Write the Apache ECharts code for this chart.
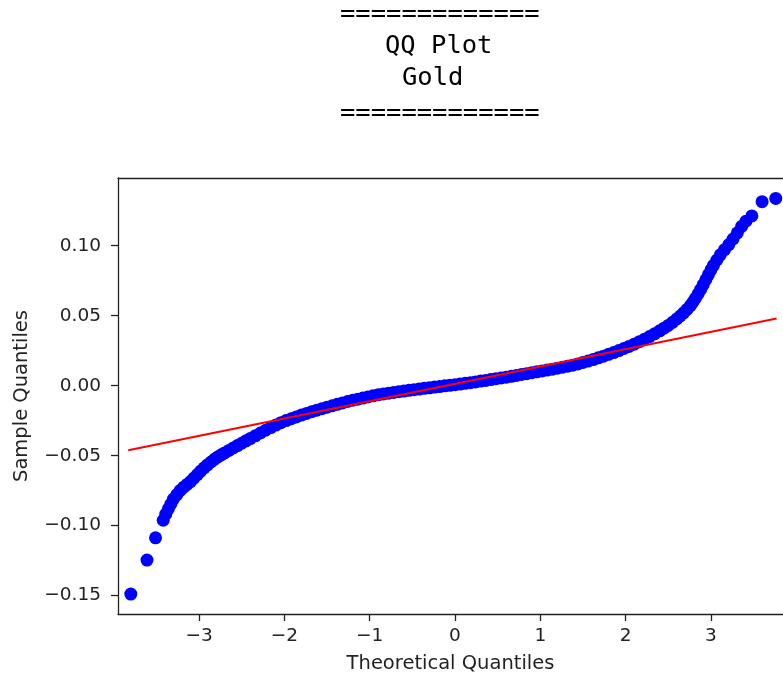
<!DOCTYPE html>
<html>
<head>
<meta charset="utf-8">
<script src="https://cdn.jsdelivr.net/npm/echarts@6/dist/echarts.min.js"></script>
<style>
  html, body { margin: 0; padding: 0; background: #fff; }
  #chart { width: 783px; height: 679px; }
</style>
</head>
<body>
<div id="chart"></div>
<script>
// theoretical quantiles (x) and sample quantiles (y)
const theoQuantiles = [
  -3.80, -3.61, -3.51, -3.42, -3.39, -3.36, -3.33, -3.30, -3.26, -3.22,
  -3.18, -3.14, -3.10, -3.06, -3.02, -2.98, -2.94, -2.90, -2.86, -2.82,
  -2.78, -2.74, -2.70, -2.65, -2.60, -2.55, -2.50, -2.45, -2.40, -2.34,
  -2.28, -2.22, -2.16, -2.10, -2.04, -1.98, -1.92, -1.86, -1.80, -1.74,
  -1.68, -1.62, -1.56, -1.50, -1.44, -1.38, -1.32, -1.26, -1.20, -1.14,
  -1.08, -1.02, -0.96, -0.90, -0.84, -0.78, -0.72, -0.66, -0.60, -0.54,
  -0.48, -0.42, -0.36, -0.30, -0.24, -0.18, -0.12, -0.06, 0.00, 0.06,
  0.12, 0.18, 0.24, 0.30, 0.36, 0.42, 0.48, 0.54, 0.60, 0.66,
  0.72, 0.78, 0.84, 0.90, 0.96, 1.02, 1.08, 1.14, 1.20, 1.26,
  1.32, 1.38, 1.44, 1.50, 1.56, 1.62, 1.68, 1.74, 1.80, 1.86,
  1.92, 1.98, 2.04, 2.10, 2.16, 2.22, 2.28, 2.34, 2.40, 2.45,
  2.50, 2.55, 2.60, 2.64, 2.68, 2.72, 2.76, 2.79, 2.82, 2.85,
  2.88, 2.91, 2.94, 2.97, 3.00, 3.03, 3.07, 3.11, 3.16, 3.21,
  3.26, 3.31, 3.36, 3.41, 3.48, 3.60, 3.76
];
const sampleQuantiles = [
  -0.1489, -0.1246, -0.1087, -0.0961, -0.0918, -0.0880, -0.0845, -0.0810, -0.0778, -0.0748,
  -0.0725, -0.0705, -0.0685, -0.0660, -0.0635, -0.0610, -0.0587, -0.0565, -0.0545, -0.0526,
  -0.0509, -0.0494, -0.0480, -0.0462, -0.0445, -0.0428, -0.0411, -0.0394, -0.0378, -0.0358,
  -0.0338, -0.0318, -0.0299, -0.0281, -0.0264, -0.0249, -0.0236, -0.0223, -0.0210, -0.0198,
  -0.0186, -0.0175, -0.0164, -0.0153, -0.0143, -0.0133, -0.0123, -0.0113, -0.0104, -0.0096,
  -0.0088, -0.0080, -0.0072, -0.0065, -0.0059, -0.0053, -0.0048, -0.0043, -0.0038, -0.0033,
  -0.0028, -0.0024, -0.0019, -0.0015, -0.0010, -0.0006, -0.0001, 0.0003, 0.0007, 0.0012,
  0.0017, 0.0022, 0.0027, 0.0033, 0.0038, 0.0044, 0.0050, 0.0055, 0.0061, 0.0067,
  0.0073, 0.0080, 0.0086, 0.0093, 0.0099, 0.0105, 0.0112, 0.0118, 0.0125, 0.0132,
  0.0139, 0.0147, 0.0156, 0.0166, 0.0176, 0.0187, 0.0199, 0.0211, 0.0224, 0.0237,
  0.0251, 0.0266, 0.0281, 0.0297, 0.0314, 0.0332, 0.0351, 0.0371, 0.0392, 0.0411,
  0.0431, 0.0453, 0.0477, 0.0498, 0.0520, 0.0545, 0.0572, 0.0598, 0.0626, 0.0656,
  0.0688, 0.0722, 0.0757, 0.0792, 0.0827, 0.0860, 0.0898, 0.0935, 0.0972, 0.1008,
  0.1048, 0.1092, 0.1138, 0.1175, 0.1213, 0.1315, 0.1338
];

// fitted reference line end points
const fitX = [-3.83, 3.77];
const fitY = [-0.0461, 0.0480];

const xTicks = [-3, -2, -1, 0, 1, 2, 3];
const yTicks = [-0.15, -0.10, -0.05, 0.00, 0.05, 0.10];

const titleLines = ['=============', 'QQ Plot', 'Gold', '============='];

const minus = s => s.replace('-', '\u2212');
const axisColor = '#222';
const labelFont = 'DejaVu Sans';

// visible x range: the right spine falls just past the canvas edge
const xMin = -3.95;
const xMax = 3.845;

const chart = echarts.init(document.getElementById('chart'), null, {renderer: 'canvas'});

const titleX = [340, 385, 402, 340];
const titleY = [14, 46, 78, 113];

chart.setOption({
  animation: false,
  backgroundColor: '#fff',
  graphic: titleLines.map((t, i) => ({
    type: 'text',
    x: titleX[i],
    y: titleY[i],
    style: {
      text: t,
      font: '25.5px "DejaVu Sans Mono", monospace',
      fill: '#000',
      align: 'left',
      verticalAlign: 'middle',
    },
  })),
  grid: {
    left: 118,
    right: 0,
    top: 178,
    bottom: 64,
    containLabel: false,
  },
  xAxis: [
    {
      type: 'value',
      min: xMin,
      max: xMax,
      name: 'Theoretical Quantiles',
      nameLocation: 'middle',
      nameGap: 40,
      nameTextStyle: {color: axisColor, fontSize: 19.5, fontFamily: labelFont},
      axisLine: {show: true, onZero: false, lineStyle: {color: axisColor, width: 1.3}},
      axisTick: {show: true, length: 7, customValues: xTicks, lineStyle: {color: axisColor, width: 1.3}},
      axisLabel: {
        customValues: xTicks,
        margin: 13,
        color: axisColor,
        fontSize: 18.5,
        fontFamily: labelFont,
        formatter: v => minus(String(v)),
      },
      splitLine: {show: false},
    },
    {
      // top spine
      type: 'value',
      position: 'top',
      min: xMin,
      max: xMax,
      axisLine: {show: true, onZero: false, lineStyle: {color: axisColor, width: 1.3}},
      axisTick: {show: false},
      axisLabel: {show: false},
      splitLine: {show: false},
    },
  ],
  yAxis: {
    type: 'value',
    min: -0.1631,
    max: 0.1484,
    name: 'Sample Quantiles',
    nameLocation: 'middle',
    nameGap: 86,
    nameTextStyle: {color: axisColor, fontSize: 19.5, fontFamily: labelFont},
    axisLine: {show: true, onZero: false, lineStyle: {color: axisColor, width: 1.3}},
    axisTick: {show: true, length: 7, customValues: yTicks, lineStyle: {color: axisColor, width: 1.3}},
    axisLabel: {
      customValues: yTicks,
      margin: 17,
      color: axisColor,
      fontSize: 18.5,
      fontFamily: labelFont,
      formatter: v => minus(v.toFixed(2)),
    },
    splitLine: {show: false},
  },
  series: [
    {
      type: 'scatter',
      xAxisIndex: 0,
      data: theoQuantiles.map((x, i) => [x, sampleQuantiles[i]]),
      symbol: 'circle',
      symbolSize: 13,
      itemStyle: {color: '#0000ff', opacity: 1},
      z: 2,
    },
    {
      type: 'line',
      xAxisIndex: 0,
      data: fitX.map((x, i) => [x, fitY[i]]),
      showSymbol: false,
      symbol: 'none',
      lineStyle: {color: '#ff0000', width: 2},
      z: 3,
    },
  ],
});
</script>
</body>
</html>
